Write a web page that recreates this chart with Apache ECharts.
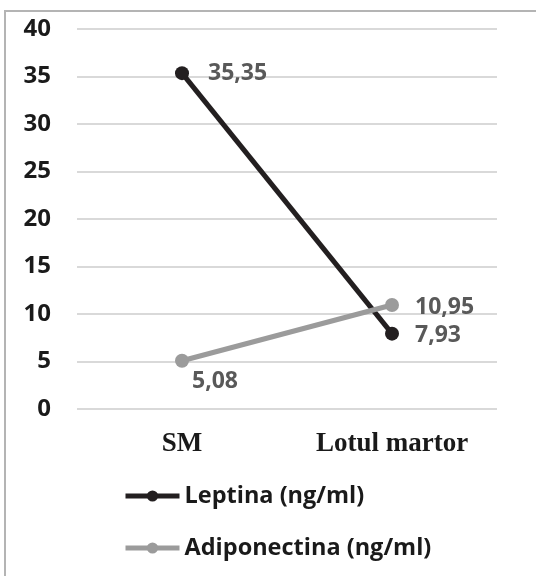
<!DOCTYPE html>
<html><head><meta charset="utf-8">
<script src="https://cdn.jsdelivr.net/npm/echarts@6/dist/echarts.min.js"></script>
<style>html,body{margin:0;padding:0;background:#fff}#c{width:536px;height:576px}</style>
</head><body><div id="c"></div>
<script>
const categories = ['SM', 'Lotul martor'];
const leptina = [35.35, 7.93];
const adiponectina = [5.08, 10.95];
const yTicks = [0, 5, 10, 15, 20, 25, 30, 35, 40];
const seriesNames = ['Leptina (ng/ml)', 'Adiponectina (ng/ml)'];

const fmt = v => v.toFixed(2).replace('.', ',');
const chart = echarts.init(document.getElementById('c'));
const baseLabel = {show: true, color: '#595959', fontFamily: 'Open Sans', fontWeight: 'bold', fontSize: 23,
  formatter: p => fmt(p.value), position: 'right', distance: 17};
chart.setOption({
  animation: false,
  graphic: [{type: 'rect', shape: {x: 5, y: 11, width: 600, height: 700}, style: {fill: 'none', stroke: '#b4b4b4', lineWidth: 2}, silent: true}],
  grid: {left: 77, right: 39, top: 29, bottom: 167, containLabel: false},
  xAxis: {type: 'category', data: categories, boundaryGap: true,
    axisLine: {show: false}, axisTick: {show: false},
    axisLabel: {color: '#1a1a1a', fontFamily: 'Liberation Serif', fontWeight: 'bold', fontSize: 27, margin: 22}},
  yAxis: {type: 'value', min: yTicks[0], max: yTicks[yTicks.length - 1], interval: 5,
    axisLine: {show: false}, axisTick: {show: false},
    splitLine: {lineStyle: {color: '#d9d9d9', width: 2}},
    axisLabel: {color: '#1a1a1a', fontFamily: 'Open Sans', fontWeight: 'bold', fontSize: 24, margin: 26}},
  legend: {orient: 'vertical', left: 118, top: 478, itemGap: 26, itemWidth: 54, itemHeight: 14,
    lineStyle: {width: 5},
    textStyle: {color: '#1a1a1a', fontFamily: 'Open Sans', fontWeight: 'bold', fontSize: 23.5, lineHeight: 26},
    data: seriesNames},
  series: [
    {name: seriesNames[0], type: 'line', symbol: 'circle', symbolSize: 14,
      lineStyle: {color: '#231f20', width: 5}, itemStyle: {color: '#231f20'},
      label: baseLabel,
      data: leptina.map((v, i) => i === 0 ? {value: v, label: {distance: 19, offset: [0, 0]}} : {value: v, label: {distance: 16, offset: [0, 2]}})},
    {name: seriesNames[1], type: 'line', symbol: 'circle', symbolSize: 14,
      lineStyle: {color: '#9b9b9b', width: 5}, itemStyle: {color: '#9b9b9b'},
      label: baseLabel,
      data: adiponectina.map((v, i) => i === 0 ? {value: v, label: {position: 'bottom', distance: 2, offset: [33, 0]}} : {value: v, label: {distance: 16, offset: [0, 2]}})}
  ]
});
</script></body></html>
